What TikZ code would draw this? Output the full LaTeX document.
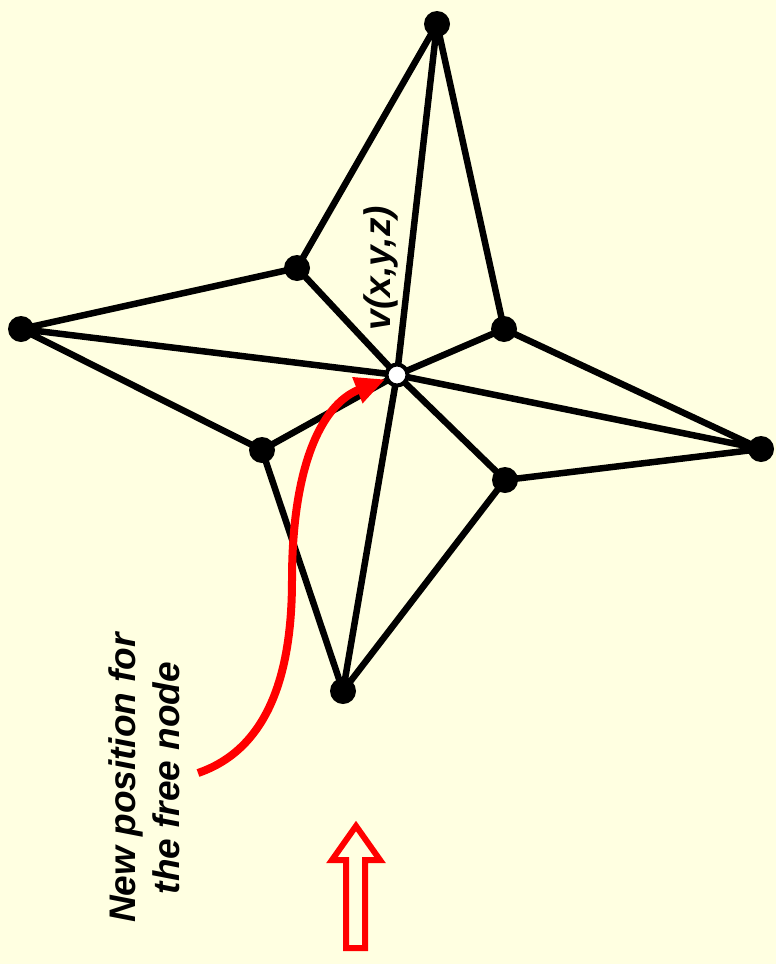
\documentclass[tikz,border=0pt]{standalone}
\usepackage{fontspec}
\setmainfont{Liberation Sans}
\usetikzlibrary{arrows.meta}
\definecolor{bg}{RGB}{255,255,225}
\begin{document}
\begin{tikzpicture}[x=1pt,y=-1pt,
  dot/.style={circle,fill=black,inner sep=0pt,minimum size=26pt},
  freedot/.style={circle,fill=white,draw=black,line width=4pt,inner sep=0pt,minimum size=21pt},
  edge/.style={line width=6.5pt},
  lbl/.style={font=\fontsize{37}{44}\selectfont\bfseries\itshape,rotate=90,inner sep=0pt}]
\fill[bg] (0,0) rectangle (776,964);
\useasboundingbox (0,0) rectangle (776,964);
\coordinate (T) at (437,24);
\coordinate (L) at (21,329);
\coordinate (R) at (761,449);
\coordinate (B) at (343,691);
\coordinate (UL) at (297,268);
\coordinate (UR) at (504,329);
\coordinate (LL) at (262,450);
\coordinate (LR) at (505,480);
\coordinate (C) at (397,375);
\draw[edge] (T) -- (UL) -- (C) (T) -- (UR) -- (C) (T) -- (C) -- (B)
  (L) -- (UL) (L) -- (C) (L) -- (LL) -- (C)
  (R) -- (UR) (R) -- (C) (R) -- (LR) -- (C)
  (B) -- (LL) (B) -- (LR);
\foreach \p in {T,L,R,B,UL,UR,LL,LR} \node[dot] (n\p) at (\p) {};
\node[freedot] (nC) at (C) {};
\node[lbl,anchor=center] (vlab) at (381,268) {v(x,y,z)};
\node[lbl,align=center] (txt) at (144,778) {New position for\\the free node};
\coordinate (s) at (198,773);
\draw[red,line width=8pt,-{Triangle[length=30pt,width=26pt]}] (s) .. controls (265,750) and (292,680) .. (292,580) .. controls (292,470) and (320,405) .. (nC.200);
\draw[red,line width=6pt,line join=miter] (356,826) -- (380,860) -- (365,860) -- (365,948) -- (346,948) -- (346,860) -- (332,860) -- cycle;
\end{tikzpicture}
\end{document}
